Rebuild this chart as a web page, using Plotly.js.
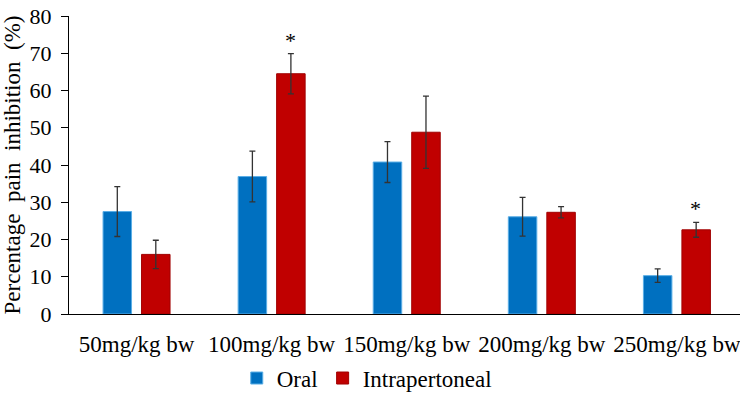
<!DOCTYPE html>
<html>
<head>
<meta charset="utf-8">
<script src="https://cdn.plot.ly/plotly-3.0.1.min.js"></script>
<style>html,body{margin:0;padding:0;background:#fff;}#chart{width:740px;height:394px;}</style>
</head>
<body>
<div id="chart"></div>
<script>
const categories = ["50mg/kg bw", "100mg/kg bw", "150mg/kg bw", "200mg/kg bw", "250mg/kg bw"];
const oralValues = [27.5, 36.9, 40.8, 26.1, 10.3];
const oralErrors = [6.7, 6.8, 5.5, 5.2, 1.8];
const ipValues = [16.0, 64.5, 48.8, 27.3, 22.6];
const ipErrors = [3.8, 5.4, 9.7, 1.5, 2.0];
const significant = [false, true, false, false, true];
const yTicks = [0, 10, 20, 30, 40, 50, 60, 70, 80];

const xIdx = categories.map((c, i) => i);
const FAM = '"Liberation Serif", "Times New Roman", Times, serif';
const font = {family: FAM, size: 22, color: "#000"};

const traces = [
  {
    type: "bar", name: "Oral", x: xIdx, y: oralValues,
    marker: {color: "#0070C0", line: {color: "#5aaee6", width: 1}},
    error_y: {type: "data", array: oralErrors, visible: true, color: "#333", thickness: 1.3, width: 3}
  },
  {
    type: "bar", name: "Intrapertoneal", x: xIdx, y: ipValues,
    marker: {color: "#C00000", line: {color: "#a00000", width: 1}},
    error_y: {type: "data", array: ipErrors, visible: true, color: "#333", thickness: 1.3, width: 3}
  }
];

const annotations = [];
significant.forEach((s, i) => {
  if (s) annotations.push({
    x: i, y: ipValues[i] + ipErrors[i], xref: "x", yref: "y", text: "*",
    showarrow: false, xshift: 19, yshift: -1, yanchor: "bottom",
    font: {family: FAM, size: 22, color: "#000"}
  });
});

const layout = {
  width: 740, height: 394,
  margin: {l: 69, r: 0, t: 16, b: 80, pad: 0, autoexpand: false},
  paper_bgcolor: "#fff", plot_bgcolor: "#fff",
  font: font,
  barmode: "group", bargap: 0.43, bargroupgap: 0.26,
  showlegend: true,
  legend: {orientation: "h", x: 0.25, xanchor: "left", y: -0.215, yanchor: "middle",
           font: {family: FAM, size: 23, color: "#000"}, itemwidth: 30, tracegroupgap: 0, bgcolor: "rgba(0,0,0,0)"},
  xaxis: {
    tickmode: "array", tickvals: xIdx, ticktext: categories,
    range: [-0.5, 4.467], showline: true, linecolor: "#000", linewidth: 1,
    ticks: "", showgrid: false, zeroline: false, ticklabelstandoff: 9,
    ticklabeloverflow: "allow",
    tickfont: {family: FAM, size: 23, color: "#000"}, fixedrange: true
  },
  yaxis: {
    range: [0, 80], tickmode: "array", tickvals: yTicks, ticktext: yTicks.map(String),
    showline: true, linecolor: "#000", linewidth: 1,
    ticks: "outside", ticklen: 7, tickwidth: 1, tickcolor: "#000",
    showgrid: false, zeroline: false,
    ticklabelstandoff: 5, tickfont: {family: FAM, size: 22, color: "#000"},
    title: {text: "Percentage&nbsp;&nbsp;pain&nbsp;&nbsp;inhibition&nbsp;&nbsp;(%)", font: {family: FAM, size: 23, color: "#000"}, standoff: 6}
  },
  annotations: annotations
};

Plotly.newPlot("chart", traces, layout, {displayModeBar: false, staticPlot: true});
</script>
</body>
</html>
